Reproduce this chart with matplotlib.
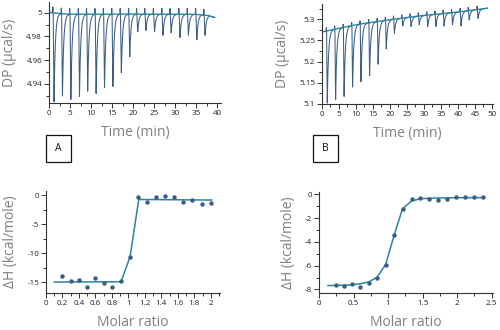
import matplotlib
matplotlib.use('Agg')
import matplotlib.pyplot as plt
import numpy as np
from matplotlib.ticker import MultipleLocator, FuncFormatter
from matplotlib.patches import Rectangle

plt.rcParams['font.family'] = ['Open Sans', 'DejaVu Sans']
plt.rcParams['axes.unicode_minus'] = False

############# Thermogram A ##############
a_peak_t = [1.2, 3.2, 5.2, 7.25, 9.2, 11.2, 13.2, 15.2, 17.2, 19.2,
            21.1, 23.05, 25.1, 27.1, 29.05, 31.15, 33.15, 35.15, 37.1]
a_peak_min = [4.925, 4.930, 4.927, 4.929, 4.934, 4.932, 4.937, 4.938, 4.9495, 4.963,
              4.984, 4.985, 4.984, 4.981, 4.983, 4.979, 4.981, 4.977, 4.981]
a_base_t = [0, 2, 5, 20, 35, 38, 39.4]
a_base_v = [5.0003, 4.9995, 4.9987, 4.9988, 4.9986, 4.9975, 4.996]

############# Thermogram B ##############
b_peak_t = [1.55, 4.0, 6.5, 9.0, 11.45, 14.0, 16.5, 18.9, 21.3, 23.75,
            26.2, 28.6, 31.1, 33.5, 35.9, 38.4, 40.9, 43.3, 45.9]
b_peak_min = [5.101, 5.110, 5.118, 5.140, 5.152, 5.167, 5.194, 5.230, 5.267, 5.284,
              5.283, 5.287, 5.283, 5.283, 5.284, 5.287, 5.284, 5.298, 5.302]
b_base_t = [0, 10, 20, 30, 40, 48.6]
b_base_v = [5.270, 5.287, 5.299, 5.309, 5.317, 5.326]

############# Isotherm A ##############
mr_a = [0.2, 0.3, 0.4, 0.5, 0.6, 0.7, 0.8, 0.91, 1.02, 1.12, 1.23, 1.335,
        1.445, 1.555, 1.665, 1.775, 1.89, 2.0]
dh_a = [-13.9, -14.9, -14.7, -15.9, -14.3, -15.1, -15.9, -14.8, -10.6, -0.4,
        -1.2, -0.3, -0.1, -0.3, -1.15, -0.9, -1.6, -1.3]
fit_x_a = [0.1, 0.91, 1.02, 1.125, 2.01]
fit_y_a = [-15.0, -14.95, -10.6, -0.75, -0.85]

############# Isotherm B ##############
mr_b = [0.245, 0.36, 0.48, 0.6, 0.72, 0.84, 0.965, 1.09, 1.21, 1.34, 1.465,
        1.59, 1.72, 1.85, 1.98, 2.11, 2.245, 2.38]
dh_b = [-7.64, -7.69, -7.5, -7.83, -7.42, -7.0, -5.92, -3.42, -1.19, -0.42,
        -0.31, -0.42, -0.47, -0.42, -0.25, -0.25, -0.22, -0.25]
fit_x_b = [0.13] + mr_b
fit_y_b = [-7.67, -7.66, -7.64, -7.6, -7.52, -7.36, -6.98, -5.9, -3.4, -1.2,
           -0.55, -0.37, -0.32, -0.3, -0.29, -0.28, -0.27, -0.27, -0.27]

TRACE = '#3d5d86'
FIT = '#2b84a4'
LABEL = '#808080'


def build_trace(t_end, base_t, base_v, peak_t, peak_min, spike, tau):
    '''
    Draws the raw power trace: baseline plus one sharp injection peak
    (small rise, fast drop to the read-off minimum, exponential return).
    '''
    t = np.arange(0, t_end, 0.004)
    y = np.interp(t, base_t, base_v)
    for tp, m in zip(peak_t, peak_min):
        d = np.interp(tp, base_t, base_v) - m
        u = t - tp
        up = (u > -0.35) & (u <= -0.2)
        y[up] += spike * (1 - np.abs(u[up] + 0.275) / 0.075).clip(0)
        drop = (u > -0.2) & (u <= 0)
        y[drop] -= d * (u[drop] + 0.2) / 0.2
        rec = u > 0
        y[rec] -= d * np.exp(-u[rec] / tau)
    return t, y


def style_axes(ax):
    ax.spines['top'].set_visible(False)
    ax.spines['right'].set_visible(False)
    for s in ['left', 'bottom']:
        ax.spines[s].set_color('#333333')
        ax.spines[s].set_linewidth(0.8)
    ax.tick_params(which='major', length=3.5, width=0.7, labelsize=5.8,
                   colors='#333333', labelcolor='#222222', pad=1.5)
    ax.tick_params(which='minor', length=2.5, width=0.7, colors='#333333')
    ax.xaxis.set_major_formatter(FuncFormatter(lambda v, p: '{:g}'.format(round(v, 4))))
    ax.yaxis.set_major_formatter(FuncFormatter(lambda v, p: '{:g}'.format(round(v, 4))))


def draw_thermogram(ax, t, y, base_t, base_v, xmax, ylim, ystep):
    ax.plot(t, y, color=TRACE, lw=0.75)
    ax.plot(base_t, base_v, color=FIT, lw=1.0)
    ax.set_xlim(0, xmax)
    ax.set_ylim(*ylim)
    ax.xaxis.set_major_locator(MultipleLocator(5))
    ax.xaxis.set_minor_locator(MultipleLocator(2.5))
    ax.yaxis.set_major_locator(MultipleLocator(ystep))
    ax.yaxis.set_minor_locator(MultipleLocator(ystep / 2))
    style_axes(ax)
    ax.set_xlabel('Time (min)', fontsize=10, color=LABEL, labelpad=6)
    ax.set_ylabel('DP (µcal/s)', fontsize=10, color=LABEL, labelpad=6.5)


def draw_isotherm(ax, x, y, fx, fy, xlim, ylim, xstep, ystep):
    ax.plot(fx, fy, color=FIT, lw=1.1)
    ax.plot(x, y, 'o', color=TRACE, ms=3.2, mec='none')
    ax.set_xlim(*xlim)
    ax.set_ylim(*ylim)
    ax.xaxis.set_major_locator(MultipleLocator(xstep))
    ax.xaxis.set_minor_locator(MultipleLocator(xstep / 2))
    ax.yaxis.set_major_locator(MultipleLocator(ystep))
    ax.yaxis.set_minor_locator(MultipleLocator(ystep / 2))
    style_axes(ax)
    ax.set_xlabel('Molar ratio', fontsize=10, color=LABEL, labelpad=6)
    ax.set_ylabel('ΔH (kcal/mole)', fontsize=10, color=LABEL, labelpad=6.5)


def panel_box(fig, x0, letter):
    fig.patches.append(Rectangle((x0, 0.509), 0.05, 0.082, transform=fig.transFigure,
                                 fill=False, ec='#111111', lw=0.9))
    fig.text(x0 + 0.025, 0.55, letter, ha='center', va='center', fontsize=7.5, color='#111111')


def main():
    fig = plt.figure(figsize=(5, 3.3), dpi=100)

    ax1 = fig.add_axes([0.098, 0.688, 0.344, 0.306])
    t, y = build_trace(39.4, a_base_t, a_base_v, a_peak_t, a_peak_min, 0.005, 0.3)
    draw_thermogram(ax1, t, y, a_base_t, a_base_v, 40.9, (4.924, 5.009), 0.02)

    ax2 = fig.add_axes([0.644, 0.685, 0.342, 0.303])
    t, y = build_trace(48.6, b_base_t, b_base_v, b_peak_t, b_peak_min, 0.008, 0.35)
    draw_thermogram(ax2, t, y, b_base_t, b_base_v, 50.3, (5.1, 5.336), 0.05)

    ax3 = fig.add_axes([0.092, 0.112, 0.348, 0.309])
    draw_isotherm(ax3, mr_a, dh_a, fit_x_a, fit_y_a, (0, 2.11), (-16.9, 0.7), 0.2, 5)

    ax4 = fig.add_axes([0.638, 0.112, 0.348, 0.306])
    draw_isotherm(ax4, mr_b, dh_b, fit_x_b, fit_y_b, (0, 2.52), (-8.3, 0.2), 0.5, 2)

    panel_box(fig, 0.092, 'A')
    panel_box(fig, 0.626, 'B')

    fig.savefig('out.png', dpi=100)


if __name__ == "__main__":
    main()
